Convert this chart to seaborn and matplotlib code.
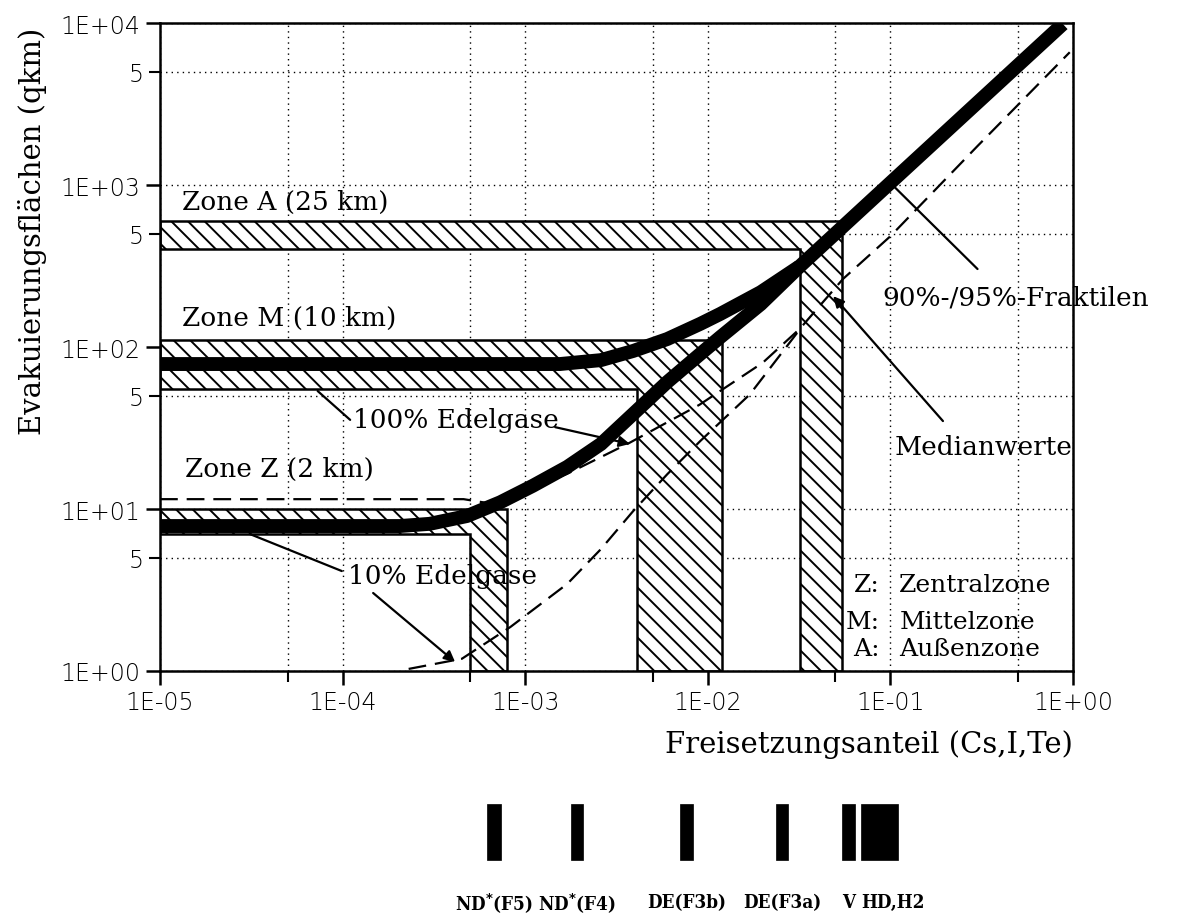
import numpy as np
import matplotlib
matplotlib.use("Agg")
import matplotlib.pyplot as plt
import matplotlib.ticker as mticker
import matplotlib.transforms as mtransforms
from matplotlib import font_manager
import seaborn as sns
import pandas as pd

# ---------------- data ----------------
zone_labels = ["Zone Z (2 km)", "Zone M (10 km)", "Zone A (25 km)"]
zone_band_lo = [7.0, 55.0, 400.0]
zone_band_hi = [10.0, 110.0, 600.0]
zone_bar_lo = [5.0e-4, 4.1e-3, 3.2e-2]
zone_bar_hi = [7.9e-4, 1.2e-2, 5.4e-2]

frac100_x = [1e-5, 1.55e-3, 2.6e-3, 3.9e-3, 6.0e-3, 9.1e-3, 1.17e-2, 1.95e-2, 3.2e-2, 0.097, 0.88]
frac100_y = [78.5, 78.5, 83, 94.5, 112, 139, 160, 218, 316, 1000, 9860]
frac10_x = [1e-5, 2.06e-4, 3.0e-4, 4.8e-4, 7.3e-4, 1.1e-3, 1.7e-3, 2.6e-3, 3.9e-3, 6.0e-3,
            9.1e-3, 1.17e-2, 1.95e-2, 3.2e-2]
frac10_y = [7.85, 7.85, 8.1, 9.05, 11.0, 13.9, 18.2, 25.2, 38.6, 60.8, 90.6, 115, 184, 316]

median100_x = [1e-5, 4.6e-4, 6.5e-4, 1.1e-3, 1.7e-3, 3.7e-3, 9e-3, 2.0e-2, 3.2e-2, 5.5e-2, 0.1, 0.3, 0.96]
median100_y = [11.5, 11.5, 10.8, 13.5, 16.5, 25.5, 44, 80, 130, 263, 483, 1740, 6600]
median10_x = [2.3e-4, 4.5e-4, 8.3e-4, 1.7e-3, 2.6e-3, 3.9e-3, 6.0e-3, 9.1e-3, 1.7e-2, 3.2e-2]
median10_y = [1.03, 1.19, 1.87, 3.45, 5.66, 9.7, 16.4, 26.3, 51, 129]

scen_names = [r"ND$^{\mathbf{*}}$(F5)", r"ND$^{\mathbf{*}}$(F4)", "DE(F3b)", "DE(F3a)", "V", "HD,H2"]
scen_lo = [6.2e-4, 1.78e-3, 7.0e-3, 2.37e-2, 5.4e-2, 6.9e-2]
scen_hi = [7.4e-4, 2.08e-3, 8.3e-3, 2.76e-2, 6.4e-2, 1.1e-1]

x_major = [1e-5, 1e-4, 1e-3, 1e-2, 1e-1, 1e0]
x_major_labels = ["1E-05", "1E-04", "1E-03", "1E-02", "1E-01", "1E+00"]
x_minor = [5e-5, 5e-4, 5e-3, 5e-2, 5e-1]
y_major = [1, 10, 100, 1000, 10000]
y_major_labels = ["1E+00", "1E+01", "1E+02", "1E+03", "1E+04"]
y_minor = [5, 50, 500, 5000]
y_minor_labels = ["5", "5", "5", "5"]

# ---------------- style ----------------
sns.set_theme(style="white")
plt.rcParams["font.family"] = ["DejaVu Serif", "DejaVu Sans"]
plt.rcParams["hatch.linewidth"] = 1.4
plt.rcParams["hatch.color"] = "black"
for k in ["text.color", "axes.labelcolor", "xtick.color", "ytick.color", "axes.edgecolor"]:
    plt.rcParams[k] = "black"

# pick a condensed bold serif for the scenario labels if one is installed
scen_font = dict(fontfamily="Liberation Serif", fontweight="bold", fontsize=15)
for f in font_manager.fontManager.ttflist:
    if f.name == "DejaVu Serif" and "ondensed" in f.fname and "Bold" in f.fname and "Italic" not in f.fname:
        scen_font = dict(fontfamily="DejaVu Serif", fontweight="bold", fontstretch="condensed", fontsize=13.5)
        break

W, H = 1180, 920
fig = plt.figure(figsize=(W / 100, H / 100), dpi=100)
fig.patch.set_facecolor("white")
ax = fig.add_axes([160 / W, 1 - 672 / H, 913 / W, 648 / H])
ax.set_facecolor("white")
ax.set_xscale("log")
ax.set_yscale("log")
ax.set_xlim(1e-5, 1)
ax.set_ylim(1, 1e4)

tick_font = dict(fontsize=17, fontfamily="DejaVu Sans", fontweight="light", color="black")
ax.set_xticks(x_major, labels=x_major_labels, **tick_font)
ax.set_xticks(x_minor, minor=True)
ax.xaxis.set_minor_formatter(mticker.NullFormatter())
ax.set_yticks(y_major, labels=y_major_labels, **tick_font)
ax.set_yticks(y_minor, labels=y_minor_labels, minor=True, **tick_font)
ax.tick_params(which="major", direction="out", length=10, width=1.8, color="black", pad=4,
               bottom=True, left=True, labelcolor="black")
ax.tick_params(which="minor", direction="out", length=8, width=1.5, color="black", pad=4,
               bottom=True, left=True, labelcolor="black")
for s in ax.spines.values():
    s.set_color("black")
    s.set_linewidth(1.8)
ax.grid(True, which="both", linestyle=(0, (1, 3)), color="black", linewidth=1.0)
ax.set_axisbelow(True)

# ---------------- hatched zones ----------------
for lo, hi, xl, xh in zip(zone_band_lo, zone_band_hi, zone_bar_lo, zone_bar_hi):
    xs = [1e-5, xl, xl, xh, xh, 1e-5]
    ys = [lo, lo, 1, 1, hi, hi]
    ax.fill(xs, ys, facecolor="white", edgecolor="black", hatch="\\\\", linewidth=1.8, zorder=2)

# ---------------- median lines (dashed) ----------------
df_m100 = pd.DataFrame({"x": median100_x, "y": median100_y})
df_m10 = pd.DataFrame({"x": median10_x, "y": median10_y})
for df in (df_m100, df_m10):
    sns.lineplot(data=df, x="x", y="y", ax=ax, color="black", linewidth=1.6,
                 estimator=None, sort=False, zorder=3)
    ax.lines[-1].set_dashes((8, 4))

# ---------------- fractile lines (thick) ----------------
df_f100 = pd.DataFrame({"x": frac100_x, "y": frac100_y})
df_f10 = pd.DataFrame({"x": frac10_x, "y": frac10_y})
for df in (df_f100, df_f10):
    sns.lineplot(data=df, x="x", y="y", ax=ax, color="black", linewidth=10,
                 estimator=None, sort=False, zorder=4)
    ax.lines[-1].set_solid_joinstyle("round")
    ax.lines[-1].set_solid_capstyle("butt")
ax.set_xlabel("")
ax.set_ylabel("")

# ---------------- texts & leaders ----------------
tf = dict(fontsize=19, fontfamily="DejaVu Serif", color="black", zorder=6)
ax.text(1.32e-5, 788, zone_labels[2], ha="left", va="center", **tf)
ax.text(1.32e-5, 153, zone_labels[1], ha="left", va="center", **tf)
ax.text(1.37e-5, 17.7, zone_labels[0], ha="left", va="center", **tf)

ax.text(1.14e-4, 35.9, "100% Edelgase", ha="left", va="center", **tf)
ax.text(1.07e-4, 3.86, "10% Edelgase", ha="left", va="center", **tf)
ax.text(0.0899, 203, "90%-/95%-Fraktilen", ha="left", va="center", **tf)
ax.text(0.105, 24.2, "Medianwerte", ha="left", va="center", **tf)

lf = dict(fontsize=18, fontfamily="DejaVu Serif", color="black", zorder=6, va="center")
for yv, ab, name in [(3.44, "Z:", "Zentralzone"), (2.03, "M:", "Mittelzone"), (1.37, "A:", "Außenzone")]:
    ax.text(0.0877, yv, ab, ha="right", **lf)
    ax.text(0.112, yv, name, ha="left", **lf)

plain = dict(arrowstyle="-", lw=1.6, color="black", shrinkA=0, shrinkB=0)
headed = dict(arrowstyle="-|>", lw=1.6, color="black", mutation_scale=16, shrinkA=0, shrinkB=0)
ax.annotate("", xy=(7.3e-5, 53.5), xytext=(1.1e-4, 35.5), arrowprops=plain, zorder=5)
ax.annotate("", xy=(3.75e-3, 25.2), xytext=(1.46e-3, 32.0), arrowprops=headed, zorder=5)
ax.annotate("", xy=(3.11e-5, 7.0), xytext=(9.9e-5, 4.14), arrowprops=plain, zorder=5)
ax.annotate("", xy=(4.13e-4, 1.137), xytext=(1.47e-4, 3.03), arrowprops=headed, zorder=5)
ax.annotate("", xy=(0.105, 975), xytext=(0.30, 303), arrowprops=plain, zorder=5)
ax.annotate("", xy=(0.0486, 206), xytext=(0.194, 34.9), arrowprops=headed, zorder=5)

# axis labels
fig.text(33 / W, 1 - 231 / H, "Evakuierungsflächen (qkm)", rotation=90, ha="center", va="center",
         fontsize=21, fontfamily="DejaVu Serif", color="black")
fig.text(1073 / W, 1 - 745 / H, "Freisetzungsanteil (Cs,I,Te)", ha="right", va="center",
         fontsize=21, fontfamily="DejaVu Serif", color="black")

# ---------------- scenario ranges below ----------------
ax2 = fig.add_axes([160 / W, 1 - 868 / H, 913 / W, 68 / H])
ax2.set_xscale("log")
ax2.set_xlim(1e-5, 1)
ax2.set_ylim(0, 1)
ax2.axis("off")
widths = [h - l for l, h in zip(scen_lo, scen_hi)]
ax2.bar(scen_lo, [0.82] * len(scen_lo), width=widths, bottom=0.1, align="edge",
        color="black", edgecolor="black", linewidth=0.5)
trans = mtransforms.blended_transform_factory(ax2.transData, ax2.transAxes)
for i, (name, l, h) in enumerate(zip(scen_names, scen_lo, scen_hi)):
    last = i == len(scen_names) - 1
    xc = l if last else np.sqrt(l * h)
    ax2.text(xc, -0.52, name, transform=trans, ha="left" if last else "center", va="center",
             color="black", **scen_font)

fig.savefig("out.png", dpi=100, facecolor="white")
